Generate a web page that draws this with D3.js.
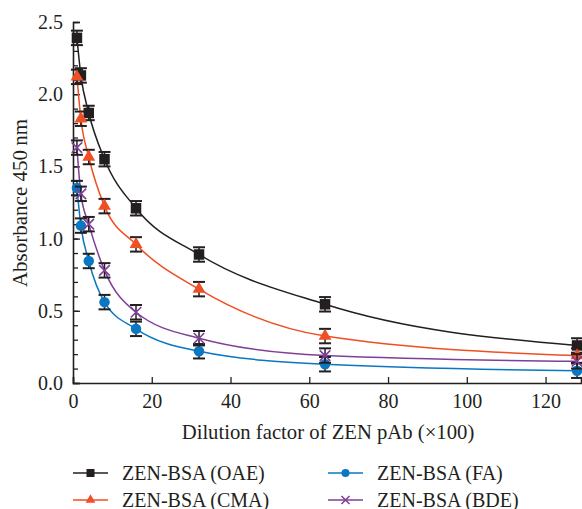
<!DOCTYPE html>
<html>
<head>
<meta charset="utf-8">
<script src="https://cdn.jsdelivr.net/npm/d3@7/dist/d3.min.js"></script>
<style>
  html, body { margin: 0; padding: 0; background: #fff; }
  svg { display: block; }
</style>
</head>
<body>
<svg id="chart" width="582" height="509"></svg>
<script>
// ---- data ----
const dilutions = [1, 2, 4, 8, 16, 32, 64, 128];
const seriesNames = ["ZEN-BSA (OAE)", "ZEN-BSA (CMA)", "ZEN-BSA (FA)", "ZEN-BSA (BDE)"];
const oaeValues = [2.39, 2.13, 1.87, 1.55, 1.21, 0.89, 0.545, 0.26];
const cmaValues = [2.12, 1.83, 1.565, 1.225, 0.96, 0.65, 0.325, 0.19];
const faValues  = [1.35, 1.09, 0.845, 0.56, 0.375, 0.22, 0.13, 0.085];
const bdeValues = [1.63, 1.31, 1.10, 0.78, 0.49, 0.31, 0.19, 0.15];
const oaeErr = [0.05, 0.05, 0.05, 0.05, 0.05, 0.05, 0.05, 0.05];
const cmaErr = [0.05, 0.05, 0.05, 0.05, 0.05, 0.05, 0.05, 0.05];
const faErr  = [0.05, 0.05, 0.05, 0.05, 0.05, 0.05, 0.05, 0.05];
const bdeErr = [0.05, 0.05, 0.05, 0.05, 0.05, 0.05, 0.05, 0.05];
const xTicks = [0, 20, 40, 60, 80, 100, 120];
const yTicks = [0.0, 0.5, 1.0, 1.5, 2.0, 2.5];
const xLabel = "Dilution factor of ZEN pAb (×100)";
const yLabel = "Absorbance 450\u2009nm";

const colors = ["#231f20", "#f04e23", "#0a77c2", "#7f3f98"];
const markers = ["square", "triangle", "circle", "cross"];
const allValues = [oaeValues, cmaValues, faValues, bdeValues];
const allErr = [oaeErr, cmaErr, faErr, bdeErr];

const FONT = "'Liberation Serif', 'Times New Roman', serif";

const series = seriesNames.map((name, i) => ({
  name, color: colors[i], marker: markers[i],
  points: dilutions.map((d, j) => ({ x: d, y: allValues[i][j], e: allErr[i][j] }))
}));

// ---- scales ----
const svg = d3.select("#chart");
const x = d3.scaleLinear().domain([0, 129]).range([73, 581]);
const y = d3.scaleLinear().domain([0, 2.5]).range([383, 22]);
const ink = "#231f20";

function styleText(sel, size) {
  sel.attr("font-size", size).attr("fill", ink).attr("font-family", FONT).style("font-family", FONT);
}

// ---- axes ----
const yAxisMinor = d3.axisLeft(y).tickValues(d3.range(0, 2.51, 0.1)).tickSize(-5).tickFormat("");
svg.append("g").attr("transform", `translate(${x(0)},0)`).call(yAxisMinor)
  .call(g => g.select(".domain").remove())
  .call(g => g.selectAll("line").attr("stroke", ink).attr("stroke-width", 1.3));

const yAxis = d3.axisLeft(y).tickValues(yTicks).tickSize(-7).tickPadding(10).tickFormat(d3.format(".1f"));
svg.append("g").attr("transform", `translate(${x(0)},0)`).call(yAxis)
  .attr("font-family", FONT)
  .call(g => g.select(".domain").attr("stroke", ink).attr("stroke-width", 1.6))
  .call(g => g.selectAll("line").attr("stroke", ink).attr("stroke-width", 1.3))
  .call(g => g.selectAll("text").call(styleText, 20));

const xAxis = d3.axisBottom(x).tickValues(xTicks).tickSize(-6).tickPadding(11).tickFormat(d3.format("d"));
svg.append("g").attr("transform", `translate(0,${y(0)})`).call(xAxis)
  .attr("font-family", FONT)
  .call(g => g.select(".domain").attr("stroke", ink).attr("stroke-width", 1.6))
  .call(g => g.selectAll("line").attr("stroke", ink).attr("stroke-width", 1.3))
  .call(g => g.selectAll("text").call(styleText, 20));

// ---- axis labels ----
svg.append("text").attr("x", 328).attr("y", 439).attr("text-anchor", "middle")
  .call(styleText, 20.7).text(xLabel);
svg.append("text").attr("transform", "translate(27,203) rotate(-90)").attr("text-anchor", "middle")
  .call(styleText, 21).text(yLabel);

// ---- markers ----
function drawMarker(g, type, color, size) {
  if (type === "square") {
    g.append("rect").attr("x", -size / 2).attr("y", -size / 2).attr("width", size).attr("height", size).attr("fill", color);
  } else if (type === "triangle") {
    const s = size * 1.2;
    g.append("path").attr("d", d3.symbol(d3.symbolTriangle, s * s * 0.45)()).attr("fill", color);
  } else if (type === "circle") {
    g.append("circle").attr("r", size / 2).attr("fill", color);
  } else if (type === "cross") {
    const h = size / 2;
    g.append("path").attr("d", `M${-h},${-h}L${h},${h}M${-h},${h}L${h},${-h}`)
      .attr("stroke", color).attr("stroke-width", 1.6).attr("fill", "none");
  }
}

// ---- curves ----
const line = d3.line().x(d => x(d.x)).y(d => y(d.y)).curve(d3.curveMonotoneX);
series.forEach(s => {
  svg.append("path").datum(s.points).attr("d", line)
    .attr("fill", "none").attr("stroke", s.color).attr("stroke-width", 1.5);
});

// ---- error bars & points ----
const capW = 6;
series.forEach(s => {
  const g = svg.append("g");
  s.points.forEach(p => {
    const cx = x(p.x), top = y(p.y + p.e), bot = y(p.y - p.e);
    g.append("line").attr("x1", cx).attr("x2", cx).attr("y1", top).attr("y2", bot)
      .attr("stroke", ink).attr("stroke-width", 1.5);
    [top, bot].forEach(yy => g.append("line").attr("x1", cx - capW).attr("x2", cx + capW)
      .attr("y1", yy).attr("y2", yy).attr("stroke", ink).attr("stroke-width", 2));
  });
  s.points.forEach(p => {
    const m = g.append("g").attr("transform", `translate(${x(p.x)},${y(p.y)})`);
    drawMarker(m, s.marker, s.color, 10.5);
  });
});

// ---- legend ----
const legendPos = [[73, 473], [73, 500], [328, 473], [328, 500]];
series.forEach((s, i) => {
  const [lx, ly] = legendPos[i];
  const g = svg.append("g").attr("transform", `translate(${lx},${ly})`);
  g.append("line").attr("x1", 0).attr("x2", 35).attr("y1", 0).attr("y2", 0)
    .attr("stroke", s.color).attr("stroke-width", 1.5);
  const m = g.append("g").attr("transform", "translate(17.5,0)");
  drawMarker(m, s.marker, s.color, 8);
  g.append("text").attr("x", 49).attr("y", 6.5).call(styleText, 20).text(s.name);
});
</script>
</body>
</html>
